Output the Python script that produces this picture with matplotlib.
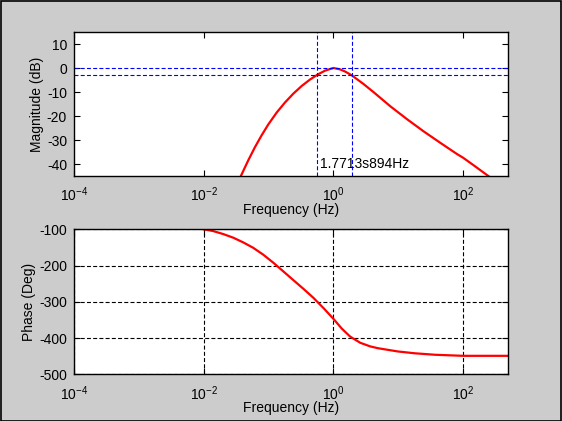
import numpy as np
import matplotlib
matplotlib.use("Agg")
import matplotlib.pyplot as plt
from matplotlib.patches import Rectangle

plt.rcParams['font.family'] = ['Liberation Sans', 'DejaVu Sans']
plt.rcParams['font.size'] = 10
plt.rcParams['axes.unicode_minus'] = False

# magnitude curve (log10 of Hz, dB)
mag_logf = [-1.427, -1.314, -1.211, -1.107, -1.005, -0.875, -0.747, -0.618, -0.489,
            -0.360, -0.241, -0.128, 0.0, 0.104, 0.181, 0.284, 0.464, 0.619,
            0.877, 1.135, 1.392, 1.65, 1.908, 2.0, 2.165, 2.397]
mag_db = [-45.0, -38.5, -33.0, -28.0, -23.5, -18.5, -14.3, -10.6, -7.4,
          -4.7, -2.6, -1.0, 0.1, -0.5, -1.4, -3.0, -6.6, -10.0,
          -15.9, -21.3, -26.4, -31.2, -35.9, -37.4, -40.6, -45.2]

# phase curve (log10 of Hz, degrees)
ph_logf = [-2.0, -1.856, -1.701, -1.546, -1.392, -1.237, -1.082, -0.928, -0.773,
           -0.619, -0.464, -0.309, -0.155, 0.0, 0.129, 0.258, 0.413, 0.567,
           0.686, 0.995, 1.253, 1.56, 2.0, 2.71]
ph_deg = [-100, -104.7, -113, -123, -136, -151, -170, -192, -216,
          -240, -264, -289, -317, -347, -374, -396, -413, -423,
          -428, -437, -442, -446, -449, -449]

f_lo, f_hi = 0.5648, 1.9   # -3 dB points
bw_text = '1.7713s894Hz'

xticks = [1e-4, 1e-2, 1e0, 1e2]
xticklabels = [r'$\mathregular{10^{-4}}$', r'$\mathregular{10^{-2}}$',
               r'$\mathregular{10^{0}}$', r'$\mathregular{10^{2}}$']

fig = plt.figure(figsize=(5.62, 4.21), dpi=100, facecolor='#cccccc')
fig.patches.append(Rectangle((0.001, 0.001), 0.997, 0.997, transform=fig.transFigure,
                             fill=False, edgecolor='#000000', lw=1.2))

ax1 = fig.add_axes([0.1317, 0.582, 0.7731, 0.3413])
ax2 = fig.add_axes([0.1317, 0.1109, 0.7731, 0.3444])

dash = (3.6, 2.0)

f_mag = 10 ** np.array(mag_logf)
ax1.plot(f_mag, mag_db, color='red', lw=1.6)
ax1.axhline(0, color='blue', lw=0.8, dashes=dash)
ax1.axhline(-3, color='blue', lw=0.8, dashes=dash)
ax1.axvline(f_lo, color='blue', lw=0.8, dashes=dash)
ax1.axvline(f_hi, color='blue', lw=0.8, dashes=dash)
ax1.text(0.61, -40, bw_text, fontsize=10, va='center', ha='left')
ax1.set_xscale('log')
ax1.set_xlim(1e-4, 500)
ax1.set_ylim(-45, 15)
ax1.set_yticks([-40, -30, -20, -10, 0, 10])
ax1.set_ylabel('Magnitude (dB)')
ax1.yaxis.set_label_coords(-0.069, 0.5)

f_ph = 10 ** np.array(ph_logf)
ax2.plot(f_ph, ph_deg, color='red', lw=1.6)
ax2.set_xscale('log')
ax2.set_xlim(1e-4, 500)
ax2.set_ylim(-500, -100)
ax2.set_yticks([-500, -400, -300, -200, -100])
ax2.set_ylabel('Phase (Deg)')
ax2.yaxis.set_label_coords(-0.087, 0.5)
ax2.grid(True, which='major', color='black', lw=0.8, dashes=dash)

for ax in (ax1, ax2):
    ax.set_xticks(xticks)
    ax.set_xticklabels(xticklabels)
    ax.minorticks_off()
    ax.set_xlabel('Frequency (Hz)', labelpad=-1)
    ax.tick_params(direction='in', top=True, right=True, length=4, width=0.8,
                   labelsize=10, pad=5)
    ax.tick_params(axis='x', pad=7)
    for s in ax.spines.values():
        s.set_linewidth(1.0)

fig.savefig('out.png', dpi=100, facecolor=fig.get_facecolor())
